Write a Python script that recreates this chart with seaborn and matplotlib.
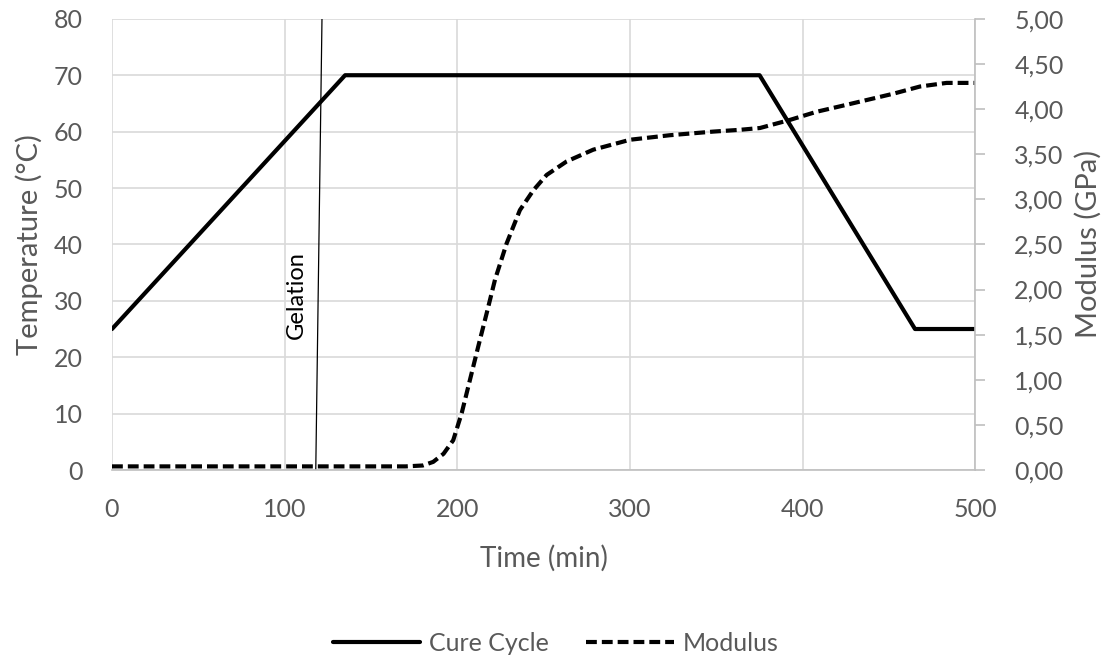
import matplotlib
matplotlib.use("Agg")
import matplotlib.pyplot as plt
import seaborn as sns
import pandas as pd

# ---- data ----
cure_time = [0, 135, 375, 465, 500]
cure_temp = [25, 70, 70, 25, 25]

mod_time = [0, 50, 100, 150, 170, 180, 186, 192, 197.6, 202.5, 207.3, 212.1, 217, 221.8,
            228.5, 236.2, 244, 251.7, 263.3, 278.7, 300, 323, 348, 363.6, 375.2,
            392.6, 408, 421.5, 437, 452.4, 467.9, 483.3, 490, 500]
mod_gpa = [0.04, 0.04, 0.04, 0.04, 0.04, 0.05, 0.09, 0.18, 0.33, 0.63, 1.0, 1.37, 1.74, 2.11,
           2.51, 2.88, 3.10, 3.27, 3.42, 3.55, 3.66, 3.71, 3.75, 3.77, 3.79,
           3.88, 3.97, 4.03, 4.10, 4.17, 4.25, 4.29, 4.29, 4.29]

gel_time = [118, 121.6]
gel_temp = [0, 80]

x_ticks = [0, 100, 200, 300, 400, 500]
y_ticks = [0, 10, 20, 30, 40, 50, 60, 70, 80]
y2_ticks = [0, 0.5, 1.0, 1.5, 2.0, 2.5, 3.0, 3.5, 4.0, 4.5, 5.0]
y2_labels = ["0,00", "0,50", "1,00", "1,50", "2,00", "2,50", "3,00", "3,50", "4,00", "4,50", "5,00"]

sns.set_theme(style="white")
plt.rcParams['font.family'] = ['Lato', 'DejaVu Sans']

GRAY = "#595959"
GRID = "#d9d9d9"

fig = plt.figure(figsize=(11.11, 6.63), dpi=100)
ax = fig.add_axes([0.1008, 0.2911, 0.7772, 0.6805])
ax2 = ax.twinx()

cure_df = pd.DataFrame({"t": cure_time, "v": cure_temp})
mod_df = pd.DataFrame({"t": mod_time, "v": mod_gpa})
gel_df = pd.DataFrame({"t": gel_time, "v": gel_temp})

sns.lineplot(data=cure_df, x="t", y="v", ax=ax, color="black", linewidth=3.0,
             label="Cure Cycle", legend=False)
sns.lineplot(data=gel_df, x="t", y="v", ax=ax, color="black", linewidth=0.9, legend=False)
sns.lineplot(data=mod_df, x="t", y="v", ax=ax2, color="black", linewidth=3.0,
             label="Modulus", legend=False)
ax2.lines[0].set_dashes((2.6, 1.2))

ax.text(107, 31, "Gelation", rotation=90, ha="center", va="center",
        fontsize=17, color="black")

ax.set_xlim(0, 500)
ax.set_ylim(0, 80)
ax2.set_ylim(0, 5)
ax.set_xticks(x_ticks)
ax.set_xticklabels([str(v) for v in x_ticks])
ax.set_yticks(y_ticks)
ax.set_yticklabels([str(v) for v in y_ticks])
ax2.set_yticks(y2_ticks)
ax2.set_yticklabels(y2_labels)

ax.grid(True, color=GRID, linewidth=1.2)
ax.set_axisbelow(True)
ax2.grid(False)

for a in (ax, ax2):
    for s in a.spines.values():
        s.set_visible(False)
ax.spines["bottom"].set_visible(True)
ax.spines["bottom"].set_color("#bfbfbf")
ax.spines["bottom"].set_linewidth(1.2)
ax2.spines["right"].set_visible(True)
ax2.spines["right"].set_color("#bfbfbf")
ax2.spines["right"].set_linewidth(1.2)

ax.tick_params(axis="x", length=0, labelsize=18, labelcolor=GRAY, pad=20)
ax.tick_params(axis="y", length=0, labelsize=18, labelcolor=GRAY, pad=21)
ax2.tick_params(axis="y", length=7, width=1.2, color="#bfbfbf", labelsize=18,
                labelcolor=GRAY, pad=21, direction="out")

ax.set_xlabel("Time (min)", fontsize=20, color=GRAY, labelpad=17)
ax.set_ylabel("Temperature (°C)", fontsize=21, color=GRAY, labelpad=8)
ax2.set_ylabel("Modulus (GPa)", fontsize=21, color=GRAY, labelpad=8)

h1 = ax.lines[0]
h2 = ax2.lines[0]
leg = fig.legend([h1, h2], ["Cure Cycle", "Modulus"], loc="center",
                 bbox_to_anchor=(0.5, 0.03), ncol=2, frameon=False, fontsize=18,
                 handlelength=3.5, columnspacing=1.5, handletextpad=0.35)
for t in leg.get_texts():
    t.set_color(GRAY)

fig.savefig("out.png", dpi=100)
